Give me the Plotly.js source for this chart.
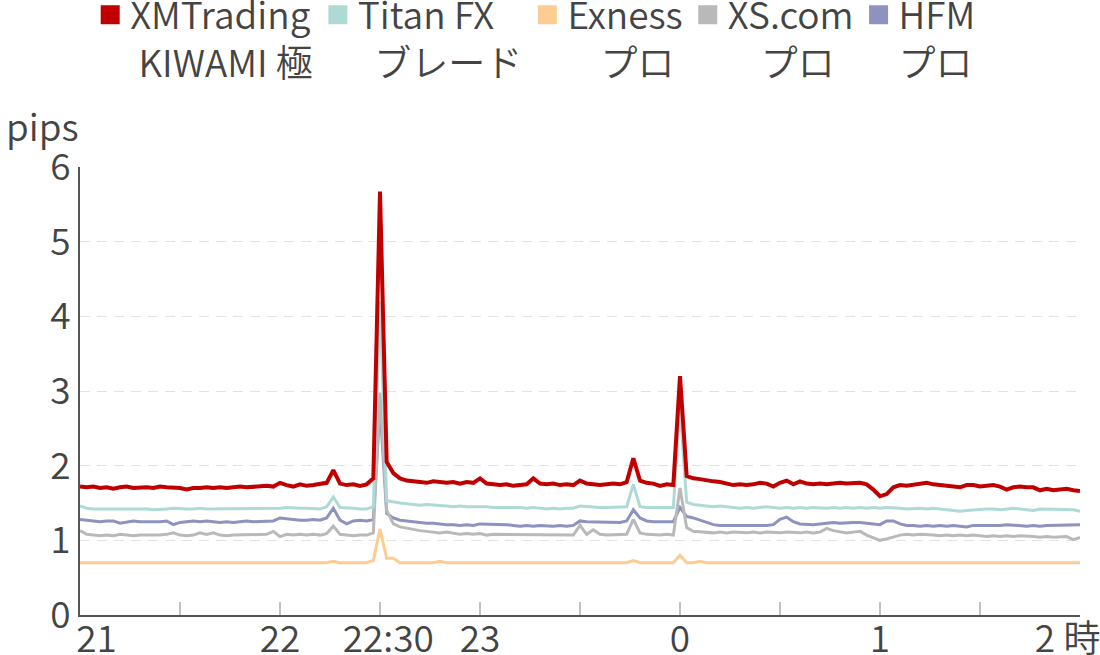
<!DOCTYPE html>
<html>
<head>
<meta charset="utf-8">
<script src="https://cdn.plot.ly/plotly-3.0.1.min.js"></script>
<style>
  html, body { margin: 0; padding: 0; background: #ffffff; }
  #chart { width: 1100px; height: 655px; }
</style>
</head>
<body>
<div id="chart"></div>
<script>
// ---- data (2-minute samples, 21:00 to 02:00) ----
const startTime = '2024-01-01T21:00:00';
const stepMinutes = 2;

const seriesNames = ['XMTrading<br>\u00a0KIWAMI 極', 'Titan FX<br>\u00a0\u00a0ブレード', 'Exness<br>\u00a0\u00a0\u00a0\u00a0プロ', 'XS.com<br>\u00a0\u00a0\u00a0\u00a0プロ', 'HFM<br>プロ'];
const seriesColors = ['#c00000', '#aedad6', '#fccc92', '#b9b9b9', '#8e92be'];

const xmKiwami = [
  1.72,1.71,1.72,1.70,1.71,1.69,1.71,1.72,1.70,1.71,
  1.71,1.70,1.72,1.71,1.71,1.70,1.68,1.70,1.70,1.71,
  1.70,1.71,1.70,1.71,1.72,1.71,1.72,1.72,1.73,1.72,
  1.77,1.74,1.72,1.75,1.73,1.74,1.76,
  1.77,1.94,1.76,1.74,1.75,1.73,1.75,1.83,
  5.67,
  2.05,1.90,1.83,1.80,1.79,
  1.78,1.77,1.79,1.78,1.77,1.78,1.76,1.78,1.77,
  1.83,
  1.76,1.75,1.74,1.75,1.73,1.74,1.75,
  1.83,
  1.76,1.75,1.76,1.74,1.75,1.74,
  1.80,
  1.76,1.75,1.74,1.75,1.76,1.75,
  1.78,2.10,1.80,
  1.77,1.76,1.73,1.75,1.74,
  3.20,
  1.86,1.83,1.82,
  1.80,1.79,1.78,1.76,1.74,1.75,1.74,1.75,1.77,1.76,
  1.72,1.77,1.80,1.75,1.79,1.76,1.75,1.76,1.75,1.76,
  1.77,1.76,1.77,1.77,1.75,1.68,1.59,1.62,1.71,1.74,
  1.73,1.74,1.76,1.77,1.75,1.74,1.74,1.73,1.71,1.74,
  1.74,1.72,1.73,1.74,1.72,1.68,1.71,1.72,1.71,1.71,
  1.67,1.69,1.67,1.68,1.69,1.67,1.66
];

const titanBlade = [
  1.46,1.43,1.42,1.42,1.43,1.42,1.42,1.43,1.42,1.42,
  1.42,1.41,1.42,1.42,1.43,1.42,1.42,1.42,1.43,1.42,
  1.42,1.42,1.43,1.42,1.42,1.42,1.43,1.43,1.42,1.42,
  1.43,1.44,1.43,1.43,1.43,1.43,1.42,
  1.45,1.58,1.44,1.43,1.43,1.42,1.42,1.45,
  4.20,
  1.53,1.51,1.50,1.49,1.48,1.47,1.48,1.47,1.46,1.46,
  1.45,1.46,1.45,1.45,1.46,1.45,1.44,1.44,1.45,1.44,
  1.44,1.43,1.44,1.43,1.42,1.43,1.42,1.43,1.43,1.46,
  1.45,1.45,1.44,1.44,1.44,1.44,1.45,1.75,1.45,1.44,
  1.44,1.43,1.44,1.44,2.80,1.51,1.48,1.47,1.46,1.45,
  1.46,1.45,1.44,1.43,1.44,1.43,1.44,1.45,1.44,1.43,
  1.44,1.43,1.44,1.43,1.44,1.43,1.43,1.44,1.43,1.44,
  1.43,1.44,1.43,1.44,1.43,1.44,1.43,1.43,1.42,1.43,
  1.43,1.42,1.43,1.42,1.41,1.40,1.39,1.40,1.41,1.41,
  1.42,1.42,1.41,1.42,1.43,1.42,1.41,1.40,1.42,1.42,
  1.41,1.42,1.42,1.41,1.39
];

const exnessPro = [
  0.70,0.70,0.70,0.70,0.70,0.70,0.70,0.70,0.70,0.70,
  0.70,0.70,0.70,0.70,0.70,0.70,0.70,0.70,0.71,0.70,
  0.70,0.70,0.70,0.70,0.70,0.70,0.70,0.70,0.70,0.70,
  0.70,0.70,0.70,0.70,0.70,0.70,0.70,0.70,0.72,0.70,
  0.70,0.70,0.70,0.70,0.73,1.15,0.76,0.76,0.70,0.70,
  0.70,0.70,0.70,0.70,0.72,0.70,0.70,0.70,0.70,0.70,
  0.70,0.70,0.70,0.70,0.70,0.70,0.70,0.70,0.70,0.70,
  0.70,0.70,0.70,0.70,0.70,0.70,0.70,0.70,0.70,0.70,
  0.70,0.70,0.70,0.73,0.70,0.70,0.70,0.70,0.70,0.70,
  0.80,0.70,0.70,0.72,0.70,0.70,0.70,0.70,0.70,0.70,
  0.70,0.70,0.70,0.70,0.70,0.70,0.70,0.70,0.70,0.70,
  0.70,0.70,0.70,0.70,0.70,0.70,0.70,0.70,0.70,0.70,
  0.70,0.70,0.71,0.70,0.70,0.70,0.70,0.70,0.70,0.70,
  0.70,0.70,0.70,0.70,0.70,0.70,0.70,0.70,0.70,0.70,
  0.70,0.70,0.70,0.70,0.70,0.70,0.70,0.70,0.70,0.70,
  0.70
];

const xsPro = [
  1.13,1.08,1.07,1.06,1.07,1.06,1.08,1.07,1.06,1.07,
  1.07,1.06,1.07,1.08,1.10,1.07,1.06,1.07,1.10,1.08,
  1.10,1.07,1.06,1.07,1.07,1.08,1.07,1.08,1.08,1.12,
  1.05,1.08,1.07,1.08,1.07,1.08,1.07,
  1.09,1.19,1.08,1.07,1.06,1.07,1.07,1.10,
  2.98,
  1.40,1.22,1.18,1.16,1.14,1.13,1.12,1.11,1.10,1.11,
  1.09,1.08,1.09,1.08,1.09,1.07,1.08,1.08,1.07,1.08,
  1.07,1.07,1.08,1.07,1.08,1.07,1.07,1.08,1.07,1.20,
  1.08,1.14,1.08,1.07,1.07,1.08,1.08,1.28,1.10,1.08,
  1.07,1.07,1.08,1.07,1.70,1.17,1.12,1.11,1.11,1.10,
  1.11,1.10,1.11,1.10,1.10,1.11,1.10,1.11,1.10,1.10,
  1.11,1.10,1.10,1.11,1.10,1.11,1.16,1.13,1.11,1.10,
  1.11,1.12,1.07,1.03,1.00,1.02,1.05,1.07,1.08,1.07,
  1.08,1.08,1.07,1.06,1.07,1.06,1.07,1.06,1.07,1.06,
  1.05,1.06,1.05,1.06,1.05,1.06,1.06,1.05,1.04,1.05,
  1.04,1.04,1.05,1.01,1.04
];

const hfmPro = [
  1.28,1.27,1.26,1.25,1.26,1.26,1.23,1.25,1.26,1.25,
  1.25,1.24,1.25,1.26,1.21,1.24,1.25,1.26,1.25,1.26,
  1.25,1.24,1.25,1.24,1.25,1.26,1.25,1.25,1.26,1.26,
  1.30,1.29,1.28,1.27,1.27,1.28,1.27,
  1.30,1.43,1.27,1.22,1.26,1.27,1.26,1.28,
  2.80,
  1.36,1.30,1.27,1.26,1.25,1.24,1.23,1.23,1.22,1.21,
  1.21,1.20,1.21,1.20,1.22,1.22,1.21,1.22,1.21,1.20,
  1.19,1.20,1.19,1.20,1.19,1.19,1.20,1.19,1.20,1.26,
  1.25,1.25,1.24,1.25,1.25,1.24,1.26,1.41,1.30,1.26,
  1.25,1.25,1.24,1.25,1.44,1.32,1.30,1.27,1.25,1.21,
  1.20,1.20,1.19,1.20,1.19,1.20,1.19,1.20,1.21,1.28,
  1.31,1.25,1.22,1.21,1.21,1.22,1.23,1.24,1.23,1.24,
  1.24,1.24,1.23,1.23,1.21,1.26,1.26,1.22,1.20,1.20,
  1.19,1.20,1.19,1.20,1.19,1.20,1.19,1.18,1.20,1.20,
  1.19,1.20,1.20,1.21,1.20,1.20,1.19,1.20,1.19,1.20,
  1.20,1.21,1.21,1.21,1.21
];

// axis ticks
const xTickVals = ['2024-01-01 21:00','2024-01-01 21:30','2024-01-01 22:00','2024-01-01 22:30','2024-01-01 23:00','2024-01-01 23:30','2024-01-02 00:00','2024-01-02 00:30','2024-01-02 01:00','2024-01-02 01:30','2024-01-02 02:00'];
const xTickText = ['\u00a0\u00a0\u00a0\u00a021','','22','\u00a0\u00a022:30','23','','0','','1','','2 時\u00a0\u00a0\u00a0'];
const yTickVals = [0,1,2,3,4,5,6];
const yTickText = ['0','1','2','3','4','5','6'];
const yUnit = 'pips';

// ---- build ----
const seriesValues = [xmKiwami, titanBlade, exnessPro, xsPro, hfmPro];
const t0 = new Date(startTime).getTime();
function fmt(ms) {
  const d = new Date(ms);
  const p = n => String(n).padStart(2, '0');
  return d.getFullYear() + '-' + p(d.getMonth() + 1) + '-' + p(d.getDate()) + ' ' + p(d.getHours()) + ':' + p(d.getMinutes());
}
const times = xmKiwami.map((_, i) => fmt(t0 + i * stepMinutes * 60000));

const FONT = '"Noto Sans CJK JP", "Noto Sans", sans-serif';
const TEXT = '#444444';
const W = 350;
const lineWidths = [4, 3, 3, 3, 3];

const traces = [];
for (let k = seriesValues.length - 1; k >= 0; k--) {
  traces.push({
    type: 'scatter', mode: 'lines',
    x: times, y: seriesValues[k],
    name: seriesNames[k], legendgroup: 'g' + k, showlegend: false,
    line: { color: seriesColors[k], width: lineWidths[k], shape: 'linear' },
    hoverinfo: 'x+y'
  });
}
for (let k = 0; k < seriesValues.length; k++) {
  traces.push({
    type: 'scatter', mode: 'markers',
    x: [null], y: [null],
    name: seriesNames[k], legendgroup: 'g' + k, showlegend: true,
    marker: { symbol: 'square', size: 16, color: seriesColors[k], line: { color: seriesColors[k], width: 3 } }
  });
}

const layout = {
  width: 1100, height: 655,
  margin: { l: 80, r: 20, t: 167, b: 40, pad: 0 },
  paper_bgcolor: '#ffffff', plot_bgcolor: '#ffffff',
  font: { family: FONT, color: TEXT, size: 37, weight: W },
  showlegend: true,
  legend: {
    orientation: 'h', xref: 'container', yref: 'container',
    x: 0.082, y: 0.856, xanchor: 'left', yanchor: 'bottom',
    valign: 'top', font: { family: FONT, size: 37, color: TEXT, weight: W },
    bgcolor: 'rgba(0,0,0,0)', borderwidth: 0, itemwidth: 30, traceorder: 'normal'
  },
  xaxis: {
    type: 'date',
    range: ['2024-01-01 21:00', '2024-01-02 02:00'],
    tickmode: 'array', tickvals: xTickVals, ticktext: xTickText,
    ticks: 'inside', ticklen: 13, tickwidth: 2, tickcolor: '#c0c0c0',
    showline: true, linecolor: '#555555', linewidth: 2,
    showgrid: false, zeroline: false, automargin: false,
    ticklabelstandoff: -9, ticklabeloverflow: 'allow',
    tickfont: { family: FONT, size: 37, color: TEXT, weight: W },
    fixedrange: true
  },
  yaxis: {
    range: [0, 6],
    tickmode: 'array', tickvals: yTickVals, ticktext: yTickText,
    ticks: '', showline: true, linecolor: '#555555', linewidth: 2,
    showgrid: true, gridcolor: '#e2e2e2', gridwidth: 1, griddash: '10px,7px',
    zeroline: false, automargin: false,
    ticklabelstandoff: 0,
    tickfont: { family: FONT, size: 37, color: TEXT, weight: W },
    fixedrange: true
  },
  annotations: [{
    text: yUnit, xref: 'paper', yref: 'paper',
    x: -0.076, y: 1.094, xanchor: 'left', yanchor: 'middle',
    showarrow: false, font: { family: FONT, size: 37, color: TEXT, weight: W }
  }]
};

Plotly.newPlot('chart', traces, layout, { displayModeBar: false, responsive: false });
</script>
</body>
</html>
